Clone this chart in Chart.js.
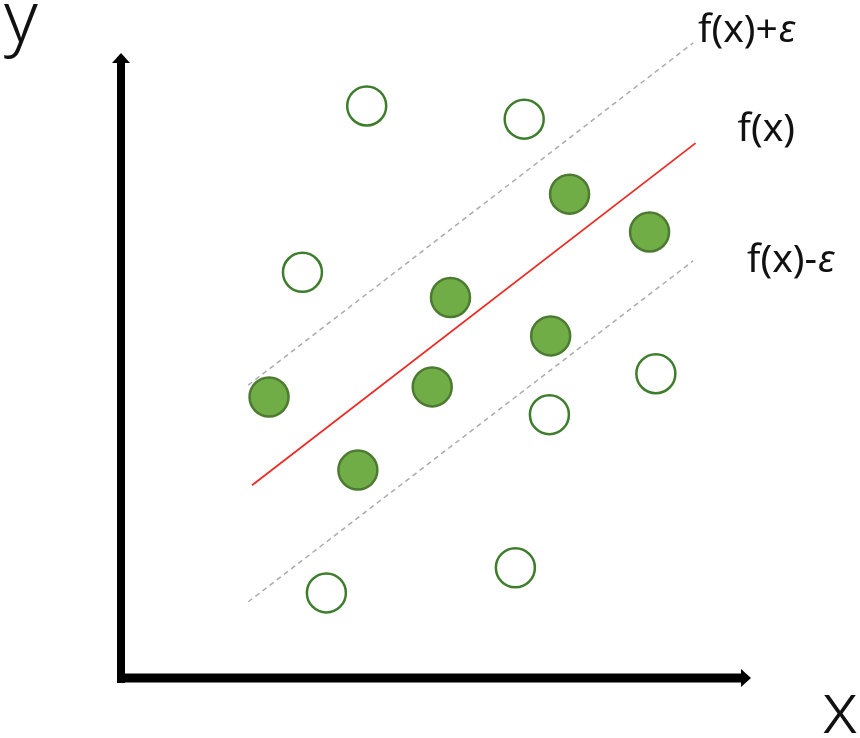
<!DOCTYPE html>
<html>
<head>
<meta charset="utf-8">
<script src="https://cdn.jsdelivr.net/npm/chart.js@4/dist/chart.umd.min.js"></script>
<style>
  html, body { margin: 0; padding: 0; background: #fff; }
  #wrap { width: 860px; height: 738px; }
</style>
</head>
<body>
<div id="wrap"><canvas id="svr-chart"></canvas></div>
<script>
// points inside the epsilon tube (filled) and outside it (hollow)
const insideX = [2.35, 3.76, 4.94, 5.23, 6.82, 7.12, 8.39];
const insideY = [4.46, 3.30, 4.62, 6.04, 5.43, 7.68, 7.08];
const outsideX = [3.90, 6.40, 2.88, 6.80, 8.49, 6.26, 3.26];
const outsideY = [9.08, 8.87, 6.44, 4.18, 4.83, 1.75, 1.35];

// regression line f(x) and the two tube borders, as end points
const fitX = [2.08, 9.12];
const fitY = [3.06, 8.49];
const upperX = [2.02, 9.08];
const upperY = [4.65, 10.08];
const lowerX = [2.02, 9.08];
const lowerY = [1.21, 6.62];

// axis extents and labels
const axisMaxX = 10.0;
const axisMaxY = 9.92;
const axisLabels = ['x', 'y'];
const lineLabels = ['f(x)+', 'f(x)', 'f(x)-'];
const epsilon = '\u03B5';

const toPoints = (xs, ys) => xs.map((x, i) => ({ x: x, y: ys[i] }));

const FONT = '"Noto Sans", "Open Sans", sans-serif';

/**
 * Draw the two black axes with their arrow heads
 */
const axesPlugin = {
    id: 'axes',
    beforeDatasetsDraw(chart) {
        const { ctx, scales: { x, y } } = chart;
        const x0 = x.getPixelForValue(0);
        const y0 = y.getPixelForValue(0);
        const xEnd = x.getPixelForValue(axisMaxX);
        const yEnd = y.getPixelForValue(axisMaxY);

        ctx.save();
        ctx.fillStyle = '#000';
        // vertical axis (8px wide)
        ctx.fillRect(x0 - 4, yEnd + 8, 8, y0 + 5 - (yEnd + 8));
        // horizontal axis (9px wide)
        ctx.fillRect(x0 - 4, y0 - 4.5, xEnd - 9 - (x0 - 4), 9);

        // arrow heads
        ctx.beginPath();
        ctx.moveTo(x0, yEnd);
        ctx.lineTo(x0 - 9, yEnd + 10);
        ctx.lineTo(x0 + 9, yEnd + 10);
        ctx.closePath();
        ctx.fill();

        ctx.beginPath();
        ctx.moveTo(xEnd, y0);
        ctx.lineTo(xEnd - 10, y0 - 9);
        ctx.lineTo(xEnd - 10, y0 + 9);
        ctx.closePath();
        ctx.fill();
        ctx.restore();
    }
};

// writes "f(x)+" and then an italic epsilon when asked
function drawLineName(ctx, text, withEps, left, baseline) {
    ctx.font = `400 39px ${FONT}`;
    ctx.fillText(text, left, baseline);
    if (withEps) {
        const w = ctx.measureText(text).width;
        ctx.font = `italic 400 39px ${FONT}`;
        ctx.fillText(epsilon, left + w + 1, baseline);
    }
}

/**
 * Axis names and line names
 */
const labelsPlugin = {
    id: 'labels',
    afterDraw(chart) {
        const { ctx, scales: { x, y } } = chart;
        ctx.save();
        ctx.fillStyle = '#111';
        ctx.textBaseline = 'alphabetic';
        ctx.textAlign = 'left';

        // big axis letters
        ctx.font = `300 72px ${FONT}`;
        ctx.fillText(axisLabels[0], x.getPixelForValue(axisMaxX) + 71, y.getPixelForValue(0) + 55);
        ctx.fillText(axisLabels[1], 4, 42);

        // line names next to the line ends
        drawLineName(ctx, lineLabels[0], true, x.getPixelForValue(upperX[1]) + 5, y.getPixelForValue(upperY[1]) - 1);
        drawLineName(ctx, lineLabels[1], false, x.getPixelForValue(fitX[1]) + 42, y.getPixelForValue(fitY[1]) - 2);
        drawLineName(ctx, lineLabels[2], true, x.getPixelForValue(lowerX[1]) + 54, y.getPixelForValue(lowerY[1]) + 11);
        ctx.restore();
    }
};

const ctx = document.getElementById('svr-chart').getContext('2d');

new Chart(ctx, {
    type: 'scatter',
    data: {
        datasets: [
            {
                type: 'line',
                label: 'f(x)+e',
                data: toPoints(upperX, upperY),
                borderColor: '#ABABAB',
                borderWidth: 1.5,
                borderDash: [5, 4],
                pointRadius: 0,
                clip: false
            },
            {
                type: 'line',
                label: 'f(x)-e',
                data: toPoints(lowerX, lowerY),
                borderColor: '#ABABAB',
                borderWidth: 1.5,
                borderDash: [5, 4],
                pointRadius: 0,
                clip: false
            },
            {
                type: 'line',
                label: 'f(x)',
                data: toPoints(fitX, fitY),
                borderColor: '#EE2A24',
                borderWidth: 1.8,
                pointRadius: 0,
                clip: false
            },
            {
                label: 'outside',
                data: toPoints(outsideX, outsideY),
                backgroundColor: '#FFFFFF',
                borderColor: '#3E7D2C',
                borderWidth: 2.5,
                pointRadius: 19.5,
                pointHoverRadius: 19.5,
                clip: false
            },
            {
                label: 'inside',
                data: toPoints(insideX, insideY),
                backgroundColor: '#70AD47',
                borderColor: '#4C7A30',
                borderWidth: 2.5,
                pointRadius: 19.5,
                pointHoverRadius: 19.5,
                clip: false
            }
        ]
    },
    options: {
        responsive: true,
        maintainAspectRatio: false,
        animation: false,
        layout: { padding: { left: 121, right: 109, top: 48, bottom: 60 } },
        plugins: {
            legend: { display: false },
            tooltip: { enabled: false }
        },
        scales: {
            x: { type: 'linear', min: 0, max: 10, display: false },
            y: { type: 'linear', min: 0, max: 10, display: false }
        }
    },
    plugins: [axesPlugin, labelsPlugin]
});
</script>
</body>
</html>
